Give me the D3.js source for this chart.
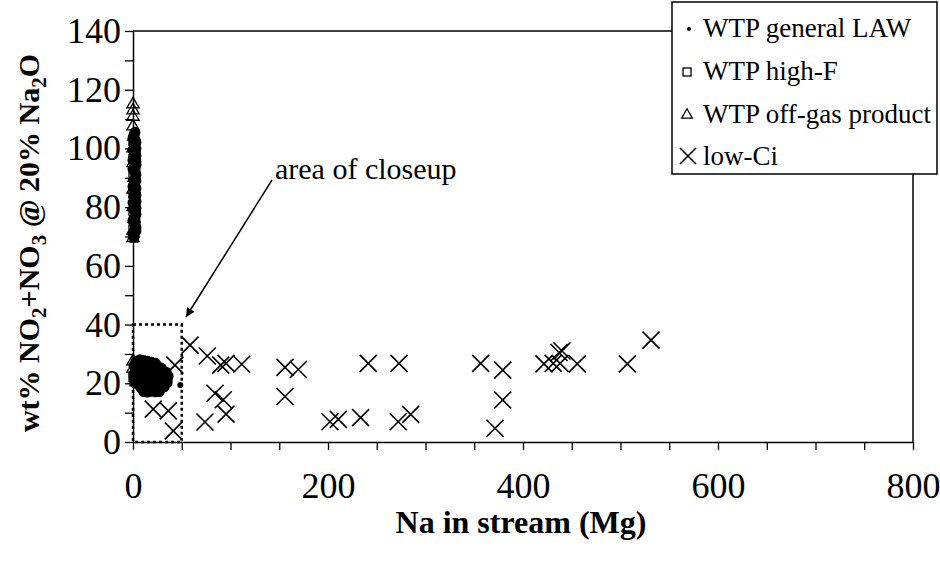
<!DOCTYPE html>
<html>
<head>
<meta charset="utf-8">
<script src="https://cdn.jsdelivr.net/npm/d3@7"></script>
<style>
  body { margin: 0; background: #fff; }
  svg { display: block; }
  text { font-family: "Liberation Serif", "Times New Roman", serif; fill: #000; }
</style>
</head>
<body>
<div id="main"></div>
<script>
// tick labels
var xTickLabels = [0, 200, 400, 600, 800];
var yTickLabels = [0, 20, 40, 60, 80, 100, 120, 140];

// WTP general LAW (small filled dots) [Na Mg, wt%]
var generalLaw = [
  [1, 70], [2, 71.5], [3, 73], [1, 74.5], [2, 76], [3, 77.5], [1, 79], [2, 80.5],
  [3, 82], [1, 83.5], [2, 85], [3, 86.5], [1, 88], [2, 89.5], [3, 91], [1, 92.5],
  [2, 94], [3, 95.5], [1, 97], [2, 98.5], [3, 100], [1, 101.5], [2, 103], [1, 104.5],
  [0, 71], [3, 72], [0, 75.5], [3, 79.5], [0, 81.5], [3, 84], [0, 87], [3, 89], [0, 93],
  [3, 94.5], [0, 96], [3, 97.5], [0, 99.5], [3, 102], [0, 103.5], [2, 105.5],
  [3, 27.5], [7, 28], [11, 27.8], [15, 27.5], [19, 27.2], [23, 26.8],
  [1, 26], [5, 26.2], [9, 26], [13, 26.3], [17, 25.8], [21, 26], [25, 25.7], [29, 25.2],
  [2, 24.5], [6, 24.3], [10, 24.6], [14, 24.4], [18, 24.5], [22, 24.2], [26, 24.6], [30, 24.3], [34, 23.8],
  [1, 23], [4, 22.8], [8, 23.1], [12, 22.9], [16, 23], [20, 22.7], [24, 23.2], [28, 22.8], [32, 23], [36, 22.5],
  [2, 21.5], [6, 21.3], [10, 21.6], [14, 21.4], [18, 21.5], [22, 21.2], [26, 21.6], [30, 21.3], [35, 21.2],
  [3, 20], [7, 20.2], [11, 19.8], [15, 20.1], [19, 19.9], [23, 20.2], [27, 19.8], [31, 20], [35, 20.3],
  [8, 18.6], [12, 18.4], [16, 18.7], [20, 18.3], [24, 18.6], [28, 18.4], [32, 18.8],
  [11, 17.2], [15, 17], [19, 17.3], [23, 17.1], [27, 17.2],
  [48.5, 19.4]
];

// WTP high-F (open squares)
var highF = [
  [1, 69.5], [2, 71], [0, 72.5], [3, 74], [1, 75.5], [2, 77], [0, 78.5], [3, 80],
  [1, 81.5], [2, 83], [0, 84.5], [3, 86], [1, 87.5], [2, 89], [0, 90.5], [3, 92],
  [1, 93.5], [2, 95], [0, 96.5], [3, 98], [1, 99.5], [2, 101], [0, 102.5], [1, 104],
  [0, 22], [1, 20.5]
];

// WTP off-gas product (open triangles)
var offGas = [
  [0, 115], [0, 113], [0, 110.8], [0, 107.5], [1, 104], [0, 100], [0, 95], [1, 90],
  [0, 86], [0, 80], [1, 76], [0, 72], [0, 69.5],
  [0, 27.5], [0, 25]
];

// low-Ci (crosses)
var lowCi = [
  [20.8, 11.2], [36.2, 10.6], [41.3, 3.8], [43, 26.2], [58.5, 33.0], [76.2, 29.3],
  [73.8, 6.8], [84.1, 16.6], [90, 26.2], [92.6, 14.4], [95.4, 26.8], [95.4, 9.5],
  [111.5, 26.5], [155.9, 25.4], [169.6, 24.7], [155.9, 15.5], [202, 6.9], [210.6, 7.7],
  [233.5, 8.3], [241.3, 26.8], [272, 6.9], [272.8, 26.8], [284.8, 9.4], [356.6, 26.8],
  [379.2, 24.5], [379.2, 14.3], [371.3, 4.7], [421.5, 26.6], [431, 26.8], [437, 30.5],
  [440, 31], [438, 26.8], [455.7, 26.6], [507, 26.6], [531.3, 34.7]
];

// close-up box [x0, x1, y0, y1]
var closeupBox = [0, 50, 0, 40];

var legendItems = ['WTP general LAW', 'WTP high-F', 'WTP off-gas product', 'low-Ci'];

function Sketch() {
  this.width = 940;
  this.height = 569;
}

Sketch.prototype.init = function() {
  this.svg = d3.select('#main')
    .append('svg')
    .attr('width', this.width)
    .attr('height', this.height);

  this.x = d3.scaleLinear().domain([0, 800]).range([133, 913]);
  this.y = d3.scaleLinear().domain([0, 140]).range([442, 31]);
};

Sketch.prototype.render = function() {
  var svg = this.svg, x = this.x, y = this.y;
  var fontAxis = 36;
  var serif = '"Liberation Serif", "Times New Roman", serif';

  // plot frame (top + right)
  svg.append('path')
    .attr('d', 'M' + x(0) + ',' + y(140) + 'H' + x(800) + 'V' + y(0))
    .attr('fill', 'none')
    .attr('stroke', '#000')
    .attr('stroke-width', 1.5);

  // minor ticks
  svg.append('g')
    .attr('transform', 'translate(0,' + y(0) + ')')
    .call(d3.axisBottom(x).tickValues(d3.range(0, 801, 50)).tickSize(8).tickSizeOuter(0).tickFormat(''))
    .call(function(g) { g.selectAll('line').attr('stroke-width', 1.3); g.select('.domain').attr('stroke-width', 1.5); });

  svg.append('g')
    .attr('transform', 'translate(' + x(0) + ',0)')
    .call(d3.axisLeft(y).tickValues(d3.range(0, 141, 10)).tickSize(8).tickSizeOuter(0).tickFormat(''))
    .call(function(g) { g.selectAll('line').attr('stroke-width', 1.3); g.select('.domain').attr('stroke-width', 1.5); });

  // tick labels
  var xa = svg.append('g')
    .attr('transform', 'translate(0,' + y(0) + ')')
    .call(d3.axisBottom(x).tickValues(xTickLabels).tickSize(0).tickPadding(30));
  xa.select('.domain').remove();
  xa.selectAll('text').style('font-size', fontAxis + 'px').style('font-family', serif);

  var ya = svg.append('g')
    .attr('transform', 'translate(' + x(0) + ',0)')
    .call(d3.axisLeft(y).tickValues(yTickLabels).tickSize(0).tickPadding(12));
  ya.select('.domain').remove();
  ya.selectAll('text').style('font-size', fontAxis + 'px').style('font-family', serif);

  // axis titles
  svg.append('text')
    .attr('x', 521)
    .attr('y', 533)
    .attr('text-anchor', 'middle')
    .style('font-size', '32px')
    .style('font-weight', 'bold')
    .text('Na in stream (Mg)');

  var yt = svg.append('text')
    .attr('transform', 'translate(39,243) rotate(-90)')
    .attr('text-anchor', 'middle')
    .style('font-size', '30px')
    .style('font-weight', 'bold');
  yt.append('tspan').text('wt% NO');
  yt.append('tspan').attr('dy', 7).style('font-size', '21px').text('2');
  yt.append('tspan').attr('dy', -7).text('+NO');
  yt.append('tspan').attr('dy', 7).style('font-size', '21px').text('3');
  yt.append('tspan').attr('dy', -7).text(' @ 20% Na');
  yt.append('tspan').attr('dy', 7).style('font-size', '21px').text('2');
  yt.append('tspan').attr('dy', -7).text('O');

  // close-up box
  svg.append('rect')
    .attr('x', x(closeupBox[0]))
    .attr('y', y(closeupBox[3]))
    .attr('width', x(closeupBox[1]) - x(closeupBox[0]))
    .attr('height', y(closeupBox[2]) - y(closeupBox[3]))
    .attr('fill', 'none')
    .attr('stroke', '#000')
    .attr('stroke-width', 2.5)
    .attr('stroke-dasharray', '3,3');

  // data marks
  var plot = svg.append('g').attr('class', 'plot');

  plot.selectAll('path.tri')
    .data(offGas)
    .enter()
    .append('path')
    .attr('class', 'tri')
    .attr('d', d3.symbol().type(d3.symbolTriangle).size(65))
    .attr('transform', function(d) { return 'translate(' + x(d[0]) + ',' + y(d[1]) + ')'; })
    .attr('fill', 'none')
    .attr('stroke', '#000')
    .attr('stroke-width', 1.3);

  plot.selectAll('rect.sq')
    .data(highF)
    .enter()
    .append('rect')
    .attr('class', 'sq')
    .attr('x', function(d) { return x(d[0]) - 4; })
    .attr('y', function(d) { return y(d[1]) - 4; })
    .attr('width', 8)
    .attr('height', 8)
    .attr('fill', 'none')
    .attr('stroke', '#000')
    .attr('stroke-width', 1.3);

  plot.selectAll('circle.law')
    .data(generalLaw)
    .enter()
    .append('circle')
    .attr('class', 'law')
    .attr('cx', function(d) { return x(d[0]); })
    .attr('cy', function(d) { return y(d[1]); })
    .attr('r', function(d) { return d[0] > 45 ? 3 : 5.5; })
    .attr('fill', '#000');

  plot.selectAll('path.cross')
    .data(lowCi)
    .enter()
    .append('path')
    .attr('class', 'cross')
    .attr('d', 'M-8.5,-8.5L8.5,8.5M-8.5,8.5L8.5,-8.5')
    .attr('transform', function(d) { return 'translate(' + x(d[0]) + ',' + y(d[1]) + ')'; })
    .attr('fill', 'none')
    .attr('stroke', '#000')
    .attr('stroke-width', 1.6);

  // annotation
  svg.append('defs').append('marker')
    .attr('id', 'arrow')
    .attr('viewBox', '0 0 10 10')
    .attr('refX', 10)
    .attr('refY', 5)
    .attr('markerWidth', 9)
    .attr('markerHeight', 9)
    .attr('markerUnits', 'userSpaceOnUse')
    .attr('orient', 'auto')
    .append('path')
    .attr('d', 'M0,0L10,5L0,10z')
    .attr('fill', '#000');

  svg.append('line')
    .attr('x1', 272)
    .attr('y1', 180)
    .attr('x2', 186)
    .attr('y2', 317)
    .attr('stroke', '#000')
    .attr('stroke-width', 1.5)
    .attr('marker-end', 'url(#arrow)');

  svg.append('text')
    .attr('x', 275)
    .attr('y', 179)
    .style('font-size', '30px')
    .text('area of closeup');

  // legend
  var lg = svg.append('g').attr('class', 'legend');
  lg.append('rect')
    .attr('x', 672)
    .attr('y', 2)
    .attr('width', 265)
    .attr('height', 172)
    .attr('fill', '#fff')
    .attr('stroke', '#000')
    .attr('stroke-width', 1.5);

  var rowY = [37, 80, 123, 165];
  var mx = 687;
  lg.append('circle').attr('cx', mx + 2).attr('cy', rowY[0] - 8).attr('r', 2).attr('fill', '#000');
  lg.append('rect').attr('x', mx - 4).attr('y', rowY[1] - 12).attr('width', 8).attr('height', 8)
    .attr('fill', 'none').attr('stroke', '#000').attr('stroke-width', 1.3);
  lg.append('path').attr('d', d3.symbol().type(d3.symbolTriangle).size(50))
    .attr('transform', 'translate(' + mx + ',' + (rowY[2] - 8) + ')')
    .attr('fill', 'none').attr('stroke', '#000').attr('stroke-width', 1.3);
  lg.append('path').attr('d', 'M-8,-8L8,8M-8,8L8,-8')
    .attr('transform', 'translate(' + (mx + 1) + ',' + (rowY[3] - 9) + ')')
    .attr('fill', 'none').attr('stroke', '#000').attr('stroke-width', 1.6);

  lg.selectAll('text')
    .data(legendItems)
    .enter()
    .append('text')
    .attr('x', 703)
    .attr('y', function(d, i) { return rowY[i]; })
    .style('font-size', '27px')
    .text(function(d) { return d; });
};

document.addEventListener('DOMContentLoaded', function() {
  var s = new Sketch();
  s.init();
  s.render();
});
</script>
</body>
</html>
